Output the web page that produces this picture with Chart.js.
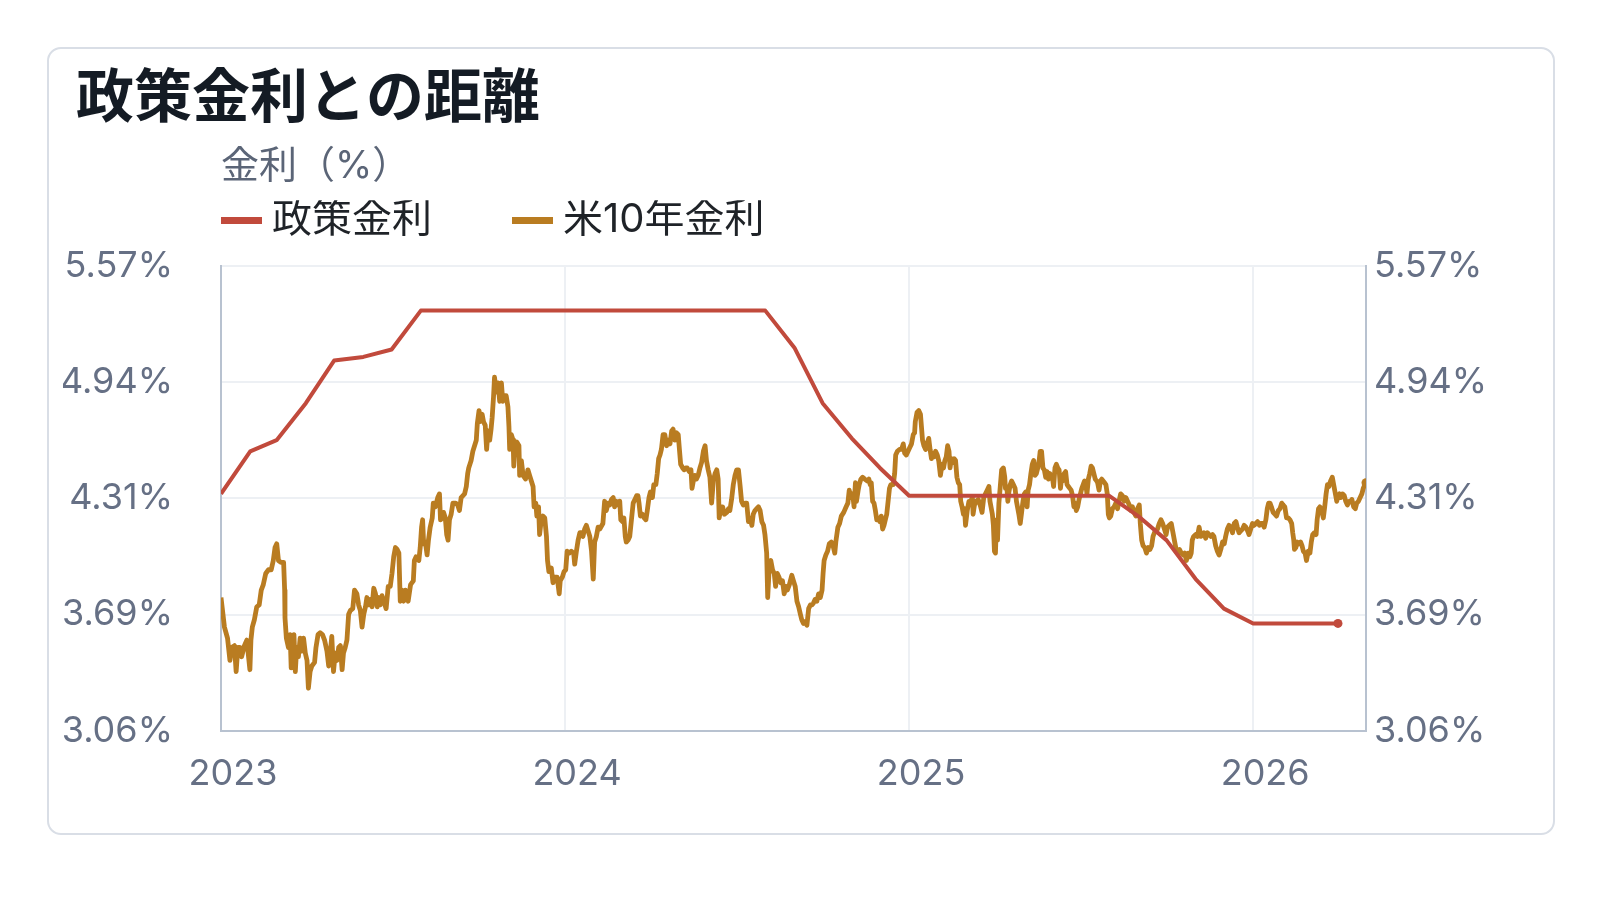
<!DOCTYPE html>
<html lang="ja">
<head>
<meta charset="utf-8">
<title>政策金利との距離</title>
<script src="https://cdn.jsdelivr.net/npm/chart.js@4.4.1/dist/chart.umd.min.js"></script>
<style>
  html, body { margin: 0; background: #ffffff; }
  body { width: 1600px; height: 900px; position: relative; overflow: hidden; }
  .card {
    position: absolute; left: 47px; top: 47px;
    width: 1508px; height: 788px; box-sizing: border-box;
    border: 2px solid #d9dee6; border-radius: 14px; background: #ffffff;
  }
  .wrap { position: relative; width: 1504px; height: 784px; }
</style>
</head>
<body>
<div class="card"><div class="wrap"><canvas id="chart"></canvas></div></div>
<script>
// ── Data ─────────────────────────────────────────────────────
const policyMonths = [
  '2023-01', '2023-02', '2023-03', '2023-04', '2023-05', '2023-06', '2023-07', '2023-08', '2023-09', '2023-10', '2023-11', '2023-12',
  '2024-01', '2024-02', '2024-03', '2024-04', '2024-05', '2024-06', '2024-07', '2024-08', '2024-09', '2024-10', '2024-11', '2024-12',
  '2025-01', '2025-02', '2025-03', '2025-04', '2025-05', '2025-06', '2025-07', '2025-08', '2025-09', '2025-10', '2025-11', '2025-12',
  '2026-01', '2026-02', '2026-03', '2026-04',
];
const policyRate = [
  4.34, 4.57, 4.63, 4.83, 5.06, 5.08, 5.12, 5.33, 5.33, 5.33, 5.33, 5.33,
  5.33, 5.33, 5.33, 5.33, 5.33, 5.33, 5.33, 5.33, 5.13, 4.83, 4.64, 4.48,
  4.33, 4.33, 4.33, 4.33, 4.33, 4.33, 4.33, 4.33, 4.22, 4.09, 3.88, 3.72,
  3.64, 3.64, 3.64, 3.64,
];

// US 10y yield: [decimal year, %]
const us10y = [
  [2023.000, 3.78], [2023.010, 3.62], [2023.019, 3.56], [2023.026, 3.44], [2023.031, 3.51], [2023.039, 3.52],
  [2023.044, 3.38], [2023.049, 3.51], [2023.055, 3.51], [2023.060, 3.46], [2023.068, 3.52], [2023.075, 3.55],
  [2023.084, 3.39], [2023.087, 3.55], [2023.091, 3.62], [2023.097, 3.66], [2023.104, 3.73], [2023.111, 3.74],
  [2023.117, 3.82], [2023.123, 3.85], [2023.130, 3.91], [2023.138, 3.93], [2023.146, 3.93], [2023.152, 3.98],
  [2023.157, 4.05], [2023.162, 4.07], [2023.167, 3.98], [2023.174, 3.97], [2023.182, 3.97], [2023.185, 3.82],
  [2023.186, 3.67], [2023.190, 3.56], [2023.196, 3.51], [2023.201, 3.58], [2023.204, 3.40], [2023.208, 3.53],
  [2023.212, 3.58], [2023.216, 3.38], [2023.220, 3.51], [2023.225, 3.46], [2023.230, 3.56], [2023.235, 3.49],
  [2023.240, 3.56], [2023.245, 3.48], [2023.250, 3.44], [2023.254, 3.29], [2023.259, 3.38], [2023.264, 3.41],
  [2023.272, 3.43], [2023.276, 3.51], [2023.282, 3.58], [2023.288, 3.59], [2023.295, 3.58], [2023.301, 3.55],
  [2023.308, 3.49], [2023.313, 3.41], [2023.318, 3.49], [2023.322, 3.57], [2023.327, 3.38], [2023.332, 3.48],
  [2023.337, 3.44], [2023.342, 3.51], [2023.347, 3.52], [2023.352, 3.39], [2023.356, 3.48], [2023.361, 3.51],
  [2023.366, 3.55], [2023.371, 3.69], [2023.376, 3.71], [2023.383, 3.72], [2023.388, 3.82], [2023.395, 3.80],
  [2023.400, 3.74], [2023.405, 3.71], [2023.410, 3.62], [2023.415, 3.69], [2023.420, 3.73], [2023.424, 3.78],
  [2023.429, 3.74], [2023.434, 3.77], [2023.439, 3.73], [2023.444, 3.83], [2023.449, 3.80], [2023.454, 3.73],
  [2023.458, 3.78], [2023.463, 3.74], [2023.468, 3.79], [2023.473, 3.76], [2023.480, 3.72], [2023.486, 3.84],
  [2023.492, 3.84], [2023.497, 3.91], [2023.502, 4.00], [2023.507, 4.05], [2023.512, 4.04], [2023.517, 4.02],
  [2023.521, 3.76], [2023.526, 3.82], [2023.531, 3.76], [2023.536, 3.82], [2023.544, 3.76], [2023.551, 3.85],
  [2023.559, 3.87], [2023.562, 3.98], [2023.567, 4.00], [2023.575, 3.98], [2023.579, 4.05], [2023.583, 4.16],
  [2023.586, 4.20], [2023.589, 4.07], [2023.594, 4.08], [2023.599, 4.01], [2023.603, 4.09], [2023.608, 4.16],
  [2023.614, 4.21], [2023.617, 4.29], [2023.623, 4.27], [2023.630, 4.32], [2023.635, 4.34], [2023.638, 4.20],
  [2023.643, 4.21], [2023.647, 4.24], [2023.652, 4.21], [2023.656, 4.12], [2023.660, 4.09], [2023.664, 4.20],
  [2023.669, 4.23], [2023.674, 4.29], [2023.682, 4.29], [2023.688, 4.28], [2023.693, 4.25], [2023.698, 4.32],
  [2023.708, 4.34], [2023.713, 4.38], [2023.717, 4.45], [2023.720, 4.48], [2023.727, 4.52], [2023.732, 4.57],
  [2023.737, 4.60], [2023.742, 4.63], [2023.745, 4.72], [2023.750, 4.79], [2023.753, 4.73], [2023.759, 4.77],
  [2023.763, 4.73], [2023.768, 4.71], [2023.772, 4.58], [2023.776, 4.68], [2023.781, 4.63], [2023.785, 4.69],
  [2023.788, 4.75], [2023.792, 4.86], [2023.795, 4.97], [2023.800, 4.89], [2023.805, 4.94], [2023.810, 4.84],
  [2023.815, 4.94], [2023.819, 4.84], [2023.824, 4.87], [2023.829, 4.87], [2023.834, 4.81], [2023.837, 4.70],
  [2023.839, 4.58], [2023.844, 4.66], [2023.849, 4.63], [2023.851, 4.49], [2023.854, 4.58], [2023.860, 4.62],
  [2023.866, 4.60], [2023.868, 4.44], [2023.873, 4.52], [2023.878, 4.44], [2023.885, 4.42], [2023.889, 4.44],
  [2023.892, 4.47], [2023.897, 4.44], [2023.902, 4.41], [2023.907, 4.38], [2023.910, 4.27], [2023.915, 4.29],
  [2023.918, 4.22], [2023.923, 4.27], [2023.926, 4.12], [2023.931, 4.20], [2023.936, 4.22], [2023.941, 4.21],
  [2023.946, 4.11], [2023.949, 3.98], [2023.953, 3.92], [2023.960, 3.94], [2023.965, 3.86], [2023.970, 3.89],
  [2023.977, 3.89], [2023.983, 3.80], [2023.986, 3.87], [2023.992, 3.89], [2023.997, 3.92], [2024.002, 3.93],
  [2024.006, 4.03], [2024.012, 4.02], [2024.018, 4.03], [2024.025, 4.02], [2024.028, 3.96], [2024.033, 4.03],
  [2024.038, 4.09], [2024.043, 4.13], [2024.048, 4.13], [2024.052, 4.11], [2024.057, 4.15], [2024.062, 4.17],
  [2024.067, 4.14], [2024.072, 4.11], [2024.077, 4.03], [2024.082, 3.88], [2024.086, 4.08], [2024.091, 4.11],
  [2024.096, 4.16], [2024.101, 4.15], [2024.110, 4.18], [2024.115, 4.30], [2024.120, 4.25], [2024.125, 4.29],
  [2024.130, 4.28], [2024.135, 4.31], [2024.140, 4.32], [2024.144, 4.27], [2024.149, 4.30], [2024.154, 4.28],
  [2024.159, 4.30], [2024.162, 4.20], [2024.167, 4.19], [2024.171, 4.21], [2024.175, 4.11], [2024.178, 4.08],
  [2024.183, 4.09], [2024.188, 4.11], [2024.193, 4.20], [2024.198, 4.29], [2024.203, 4.31], [2024.208, 4.33],
  [2024.212, 4.33], [2024.215, 4.29], [2024.219, 4.22], [2024.225, 4.23], [2024.230, 4.21], [2024.235, 4.20],
  [2024.239, 4.25], [2024.244, 4.32], [2024.248, 4.35], [2024.254, 4.32], [2024.258, 4.39], [2024.264, 4.39],
  [2024.268, 4.45], [2024.272, 4.53], [2024.276, 4.55], [2024.280, 4.58], [2024.285, 4.66], [2024.290, 4.66],
  [2024.295, 4.60], [2024.300, 4.63], [2024.305, 4.61], [2024.310, 4.68], [2024.314, 4.69], [2024.319, 4.63],
  [2024.324, 4.67], [2024.329, 4.66], [2024.332, 4.59], [2024.336, 4.50], [2024.342, 4.48], [2024.346, 4.47],
  [2024.351, 4.48], [2024.355, 4.48], [2024.361, 4.46], [2024.366, 4.47], [2024.369, 4.37], [2024.373, 4.41],
  [2024.377, 4.44], [2024.382, 4.42], [2024.387, 4.44], [2024.392, 4.48], [2024.397, 4.51], [2024.402, 4.57],
  [2024.407, 4.60], [2024.411, 4.52], [2024.416, 4.47], [2024.421, 4.43], [2024.426, 4.29], [2024.431, 4.41],
  [2024.436, 4.45], [2024.441, 4.47], [2024.445, 4.42], [2024.448, 4.21], [2024.453, 4.27], [2024.458, 4.27],
  [2024.463, 4.23], [2024.470, 4.24], [2024.475, 4.26], [2024.479, 4.25], [2024.484, 4.31], [2024.489, 4.39],
  [2024.494, 4.44], [2024.499, 4.47], [2024.504, 4.47], [2024.509, 4.38], [2024.513, 4.30], [2024.518, 4.28],
  [2024.523, 4.29], [2024.528, 4.29], [2024.533, 4.19], [2024.538, 4.21], [2024.543, 4.17], [2024.547, 4.23],
  [2024.552, 4.25], [2024.557, 4.26], [2024.562, 4.27], [2024.567, 4.25], [2024.572, 4.19], [2024.577, 4.17],
  [2024.581, 4.12], [2024.586, 4.02], [2024.589, 3.78], [2024.594, 3.96], [2024.598, 3.98], [2024.603, 3.93],
  [2024.608, 3.91], [2024.612, 3.84], [2024.617, 3.91], [2024.622, 3.89], [2024.627, 3.86], [2024.632, 3.87],
  [2024.637, 3.80], [2024.642, 3.84], [2024.646, 3.82], [2024.652, 3.85], [2024.659, 3.90], [2024.664, 3.87],
  [2024.669, 3.84], [2024.674, 3.76], [2024.679, 3.73], [2024.684, 3.69], [2024.688, 3.66], [2024.693, 3.64],
  [2024.698, 3.65], [2024.703, 3.63], [2024.708, 3.72], [2024.713, 3.74], [2024.718, 3.74], [2024.722, 3.75],
  [2024.727, 3.77], [2024.732, 3.76], [2024.737, 3.80], [2024.742, 3.78], [2024.747, 3.82], [2024.750, 3.91],
  [2024.753, 3.98], [2024.758, 4.01], [2024.763, 4.03], [2024.768, 4.07], [2024.774, 4.08], [2024.779, 4.06],
  [2024.784, 4.02], [2024.787, 4.08], [2024.793, 4.16], [2024.798, 4.18], [2024.803, 4.22], [2024.810, 4.24],
  [2024.817, 4.27], [2024.822, 4.29], [2024.826, 4.36], [2024.831, 4.32], [2024.836, 4.34], [2024.840, 4.27],
  [2024.844, 4.40], [2024.847, 4.30], [2024.852, 4.36], [2024.855, 4.39], [2024.860, 4.42], [2024.865, 4.43],
  [2024.871, 4.42], [2024.878, 4.41], [2024.883, 4.42], [2024.887, 4.39], [2024.890, 4.40], [2024.894, 4.30],
  [2024.898, 4.29], [2024.902, 4.25], [2024.906, 4.20], [2024.911, 4.21], [2024.915, 4.19], [2024.919, 4.22],
  [2024.923, 4.15], [2024.927, 4.17], [2024.931, 4.20], [2024.935, 4.23], [2024.939, 4.30], [2024.943, 4.37],
  [2024.947, 4.39], [2024.951, 4.39], [2024.954, 4.39], [2024.958, 4.45], [2024.961, 4.55], [2024.966, 4.57],
  [2024.972, 4.58], [2024.978, 4.58], [2024.983, 4.61], [2024.987, 4.56], [2024.992, 4.55], [2024.997, 4.57],
  [2025.002, 4.59], [2025.007, 4.61], [2025.012, 4.66], [2025.016, 4.67], [2025.018, 4.73], [2025.023, 4.78],
  [2025.028, 4.79], [2025.033, 4.77], [2025.036, 4.70], [2025.039, 4.63], [2025.043, 4.60], [2025.048, 4.58],
  [2025.052, 4.61], [2025.057, 4.64], [2025.061, 4.58], [2025.065, 4.53], [2025.069, 4.56], [2025.073, 4.54],
  [2025.077, 4.57], [2025.082, 4.55], [2025.086, 4.52], [2025.091, 4.44], [2025.096, 4.50], [2025.100, 4.48],
  [2025.104, 4.52], [2025.108, 4.54], [2025.112, 4.60], [2025.116, 4.57], [2025.119, 4.48], [2025.123, 4.53],
  [2025.127, 4.51], [2025.131, 4.53], [2025.135, 4.52], [2025.139, 4.43], [2025.143, 4.40], [2025.147, 4.39],
  [2025.150, 4.30], [2025.154, 4.27], [2025.158, 4.23], [2025.161, 4.26], [2025.164, 4.17], [2025.169, 4.25],
  [2025.174, 4.30], [2025.179, 4.30], [2025.184, 4.32], [2025.186, 4.23], [2025.190, 4.28], [2025.195, 4.30],
  [2025.201, 4.31], [2025.208, 4.27], [2025.212, 4.24], [2025.217, 4.32], [2025.222, 4.34], [2025.227, 4.36],
  [2025.232, 4.38], [2025.235, 4.30], [2025.239, 4.26], [2025.242, 4.23], [2025.245, 4.17], [2025.248, 4.03],
  [2025.251, 4.02], [2025.254, 4.20], [2025.257, 4.09], [2025.261, 4.29], [2025.265, 4.38], [2025.269, 4.47],
  [2025.274, 4.48], [2025.278, 4.43], [2025.280, 4.37], [2025.284, 4.38], [2025.287, 4.30], [2025.290, 4.35],
  [2025.294, 4.39], [2025.298, 4.41], [2025.303, 4.39], [2025.308, 4.37], [2025.312, 4.30], [2025.315, 4.27],
  [2025.319, 4.23], [2025.323, 4.18], [2025.327, 4.24], [2025.331, 4.30], [2025.335, 4.34], [2025.339, 4.35],
  [2025.343, 4.27], [2025.346, 4.36], [2025.350, 4.39], [2025.354, 4.45], [2025.358, 4.50], [2025.362, 4.52],
  [2025.366, 4.44], [2025.370, 4.45], [2025.374, 4.48], [2025.378, 4.52], [2025.381, 4.57], [2025.385, 4.57],
  [2025.389, 4.48], [2025.393, 4.47], [2025.397, 4.43], [2025.401, 4.46], [2025.405, 4.42], [2025.409, 4.45],
  [2025.412, 4.43], [2025.416, 4.44], [2025.420, 4.38], [2025.424, 4.48], [2025.428, 4.50], [2025.432, 4.48],
  [2025.436, 4.47], [2025.440, 4.37], [2025.444, 4.44], [2025.447, 4.41], [2025.451, 4.45], [2025.455, 4.46],
  [2025.459, 4.39], [2025.463, 4.38], [2025.467, 4.37], [2025.471, 4.36], [2025.475, 4.33], [2025.479, 4.27],
  [2025.482, 4.29], [2025.486, 4.25], [2025.490, 4.27], [2025.494, 4.31], [2025.498, 4.34], [2025.502, 4.37],
  [2025.506, 4.39], [2025.510, 4.41], [2025.513, 4.40], [2025.517, 4.34], [2025.521, 4.42], [2025.525, 4.45],
  [2025.529, 4.49], [2025.533, 4.48], [2025.537, 4.45], [2025.541, 4.42], [2025.545, 4.41], [2025.548, 4.40],
  [2025.552, 4.36], [2025.556, 4.41], [2025.560, 4.42], [2025.564, 4.41], [2025.568, 4.40], [2025.572, 4.39],
  [2025.576, 4.34], [2025.579, 4.23], [2025.582, 4.21], [2025.586, 4.22], [2025.591, 4.26], [2025.596, 4.27],
  [2025.601, 4.29], [2025.606, 4.26], [2025.610, 4.30], [2025.615, 4.34], [2025.620, 4.33], [2025.625, 4.30],
  [2025.630, 4.32], [2025.635, 4.30], [2025.640, 4.28], [2025.645, 4.25], [2025.649, 4.27], [2025.654, 4.24],
  [2025.659, 4.22], [2025.664, 4.26], [2025.669, 4.28], [2025.672, 4.18], [2025.676, 4.09], [2025.680, 4.06],
  [2025.685, 4.05], [2025.690, 4.02], [2025.695, 4.05], [2025.700, 4.04], [2025.705, 4.06], [2025.709, 4.11],
  [2025.713, 4.13], [2025.717, 4.14], [2025.722, 4.15], [2025.727, 4.18], [2025.732, 4.20], [2025.737, 4.18],
  [2025.742, 4.15], [2025.747, 4.12], [2025.751, 4.16], [2025.756, 4.17], [2025.762, 4.18], [2025.767, 4.13],
  [2025.772, 4.08], [2025.777, 4.03], [2025.782, 4.02], [2025.786, 4.04], [2025.791, 4.02], [2025.796, 4.01],
  [2025.801, 4.02], [2025.806, 3.98], [2025.811, 4.02], [2025.816, 4.00], [2025.820, 4.02], [2025.823, 4.09],
  [2025.827, 4.11], [2025.833, 4.12], [2025.838, 4.11], [2025.843, 4.16], [2025.848, 4.11], [2025.852, 4.12],
  [2025.857, 4.13], [2025.862, 4.10], [2025.867, 4.13], [2025.872, 4.12], [2025.877, 4.11], [2025.882, 4.12],
  [2025.886, 4.11], [2025.891, 4.06], [2025.896, 4.03], [2025.901, 4.01], [2025.906, 4.04], [2025.911, 4.08],
  [2025.916, 4.07], [2025.920, 4.11], [2025.925, 4.15], [2025.930, 4.17], [2025.935, 4.16], [2025.940, 4.13],
  [2025.945, 4.18], [2025.950, 4.19], [2025.954, 4.16], [2025.959, 4.13], [2025.964, 4.14], [2025.969, 4.15],
  [2025.974, 4.17], [2025.979, 4.16], [2025.984, 4.14], [2025.988, 4.12], [2025.993, 4.15], [2025.998, 4.18],
  [2026.003, 4.17], [2026.008, 4.18], [2026.013, 4.19], [2026.018, 4.17], [2026.022, 4.18], [2026.027, 4.18],
  [2026.032, 4.16], [2026.037, 4.20], [2026.041, 4.26], [2026.045, 4.29], [2026.049, 4.29], [2026.053, 4.27],
  [2026.058, 4.24], [2026.063, 4.23], [2026.068, 4.22], [2026.073, 4.25], [2026.078, 4.26], [2026.083, 4.29],
  [2026.087, 4.28], [2026.092, 4.27], [2026.097, 4.21], [2026.102, 4.21], [2026.107, 4.20], [2026.112, 4.18],
  [2026.115, 4.13], [2026.118, 4.09], [2026.120, 4.04], [2026.124, 4.05], [2026.128, 4.08], [2026.133, 4.07],
  [2026.138, 4.08], [2026.142, 4.06], [2026.146, 4.03], [2026.151, 4.02], [2026.155, 3.98], [2026.160, 4.03],
  [2026.165, 4.02], [2026.169, 4.08], [2026.173, 4.12], [2026.178, 4.13], [2026.183, 4.12], [2026.186, 4.20],
  [2026.190, 4.26], [2026.194, 4.27], [2026.199, 4.25], [2026.204, 4.21], [2026.208, 4.27], [2026.212, 4.34],
  [2026.216, 4.39], [2026.220, 4.38], [2026.225, 4.41], [2026.230, 4.43], [2026.235, 4.38], [2026.239, 4.34],
  [2026.243, 4.30], [2026.247, 4.33], [2026.251, 4.34], [2026.255, 4.32], [2026.260, 4.34], [2026.265, 4.33],
  [2026.269, 4.30], [2026.274, 4.28], [2026.279, 4.30], [2026.284, 4.30], [2026.287, 4.31], [2026.292, 4.27],
  [2026.297, 4.26], [2026.301, 4.29], [2026.306, 4.30], [2026.311, 4.32], [2026.316, 4.34], [2026.320, 4.37],
  [2026.325, 4.39], [2026.328, 4.40],
];

const xTickYears = [2023, 2024, 2025, 2026];
const xTickLabels = ['2023', '2024', '2025', '2026'];
const yMin = 3.06;
const yMax = 5.57;
const yTickLabels = ['3.06%', '3.69%', '4.31%', '4.94%', '5.57%'];

// ── Style ────────────────────────────────────────────────────
const RED = '#c14a3c';
const GOLD = '#b97c21';
const TICK = '#667085';
const AXIS = '#b8c2d0';
const GRID = '#edf0f4';
const LEGEND_GAP = '\u3000\u3000';

Chart.defaults.font.family = 'Inter, "Noto Sans CJK JP", sans-serif';

function monthToYear(ym) {
    const [y, m] = ym.split('-').map(Number);
    const start = Date.UTC(y, 0, 1);
    const end = Date.UTC(y + 1, 0, 1);
    return y + (Date.UTC(y, m - 1, 1) - start) / (end - start);
}

// legend marker: a 41px bar, padded on the left so it starts at the item edge
function lineMarker(color) {
    const c = document.createElement('canvas');
    c.width = 51;
    c.height = 7;
    const g = c.getContext('2d');
    g.fillStyle = color;
    g.fillRect(10, 0, 41, 7);
    return c;
}

const policyData = policyMonths.map((m, i) => ({ x: monthToYear(m), y: policyRate[i] }));
const usData = us10y.map(([x, y]) => ({ x, y }));
const lastDot = n => ctx => (ctx.dataIndex === n - 1 ? 4.5 : 0);

// nudge the title sideways after layout
const titleShift = {
    id: 'titleShift',
    afterLayout(chart, args, opts) {
        chart.titleBlock.left += opts.x;
        chart.titleBlock.right += opts.x;
    },
};

new Chart(document.getElementById('chart'), {
    type: 'line',
    data: {
        datasets: [
            {
                label: '政策金利',
                data: policyData,
                borderColor: RED,
                backgroundColor: RED,
                borderWidth: 4,
                borderJoinStyle: 'round',
                pointRadius: lastDot(policyData.length),
                pointBorderWidth: 0,
                tension: 0,
            },
            {
                label: '米10年金利',
                data: usData,
                borderColor: GOLD,
                backgroundColor: GOLD,
                borderWidth: 4.8,
                borderJoinStyle: 'round',
                pointRadius: lastDot(usData.length),
                pointBorderWidth: 0,
                tension: 0,
            },
        ],
    },
    plugins: [titleShift],
    options: {
        responsive: true,
        maintainAspectRatio: false,
        animation: false,
        events: [],
        layout: { padding: { left: 14, right: 0, top: 0, bottom: 15 } },
        plugins: {
            titleShift: { x: 13 },
            title: {
                display: true,
                text: '政策金利との距離',
                align: 'start',
                color: '#141b24',
                font: { size: 58, weight: 'bold', lineHeight: 1.2 },
                padding: { top: 16, bottom: 0 },
            },
            subtitle: {
                display: true,
                text: '金利（%）',
                align: 'start',
                fullSize: false,
                color: '#5b6577',
                font: { size: 38, lineHeight: 1.2 },
                padding: { top: 9, bottom: 11 },
            },
            legend: {
                display: true,
                position: 'top',
                align: 'start',
                fullSize: false,
                labels: {
                    usePointStyle: true,
                    boxWidth: 31,
                    boxHeight: 7,
                    padding: 0,
                    color: '#1f2328',
                    font: { size: 40 },
                    generateLabels: chart => {
                        const items = Chart.defaults.plugins.legend.labels.generateLabels(chart);
                        return items.map((item, i) => ({
                            ...item,
                            pointStyle: lineMarker(item.strokeStyle),
                            text: i < items.length - 1 ? item.text + LEGEND_GAP : item.text,
                        }));
                    },
                },
            },
            tooltip: { enabled: false },
        },
        scales: {
            x: {
                type: 'linear',
                min: xTickYears[0],
                max: us10y[us10y.length - 1][0],
                afterBuildTicks: s => { s.ticks = xTickYears.map(v => ({ value: v })); },
                ticks: {
                    color: TICK,
                    font: { size: 36 },
                    padding: 22,
                    labelOffset: 12,
                    maxRotation: 0,
                    autoSkip: false,
                    callback: (v, i) => xTickLabels[i],
                },
                grid: { color: GRID, lineWidth: 2, drawTicks: false },
                border: { display: true, color: AXIS, width: 2 },
            },
            xTop: {
                type: 'linear',
                position: 'top',
                display: true,
                ticks: { display: false },
                grid: { display: false, drawTicks: false },
                border: { display: false },
                afterFit: s => { s.height = 16; },
            },
            y: {
                position: 'left',
                min: yMin,
                max: yMax,
                ticks: {
                    count: yTickLabels.length,
                    color: TICK,
                    font: { size: 36 },
                    padding: 48,
                    callback: (v, i) => yTickLabels[i],
                },
                grid: { color: GRID, lineWidth: 2, drawTicks: false },
                border: { display: true, color: AXIS, width: 2 },
                afterFit: s => { s.width = 158; },
            },
            y2: {
                position: 'right',
                min: yMin,
                max: yMax,
                ticks: {
                    count: yTickLabels.length,
                    color: TICK,
                    font: { size: 36 },
                    padding: 8,
                    callback: (v, i) => yTickLabels[i],
                },
                grid: { display: false, drawTicks: false },
                border: { display: true, color: AXIS, width: 2 },
                afterFit: s => { s.width = 187; },
            },
        },
    },
});
</script>
</body>
</html>
